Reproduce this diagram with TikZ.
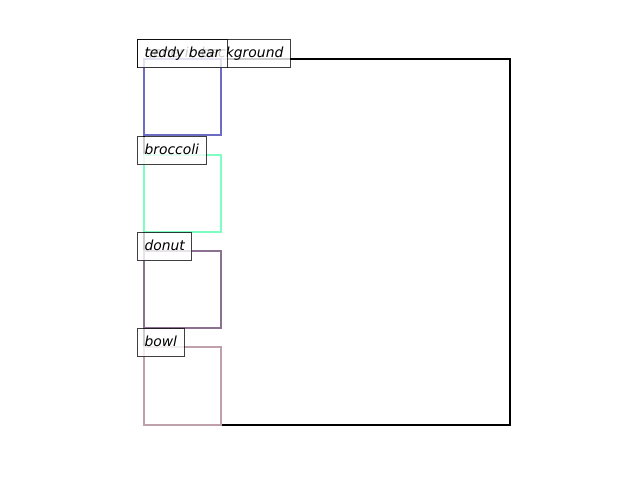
\documentclass[tikz,border=0pt]{standalone}
\usepackage{fontspec}
\setmainfont{DejaVu Sans}
\usepackage{tikz}
\usetikzlibrary{positioning}
\definecolor{tinta}{HTML}{000000}
\definecolor{osito}{HTML}{6C6CC2}
\definecolor{brocoli}{HTML}{7CFFC0}
\definecolor{dona}{HTML}{8C7092}
\definecolor{cuenco}{HTML}{C0A0AC}
\tikzset{
  marco/.style={line width=2.2pt,line join=miter},
  etiqueta/.style={draw=tinta,fill=white,draw opacity=0.75,fill opacity=0.8,text opacity=1,line width=1pt,
    inner xsep=7pt,inner ysep=7pt,text height=10.5pt,text depth=3.5pt,anchor=south west,
    font=\fontsize{13.9}{16}\selectfont\itshape},
}
\begin{document}
\begin{tikzpicture}[x=1pt,y=-1pt]
\useasboundingbox (0,0) rectangle (640,480);
\coordinate (f1) at (144,59);
\coordinate (f2) at (510,425);
\coordinate (t1) at (144,59);
\coordinate (t2) at (221,135);
\coordinate (b1) at (144,155);
\coordinate (b2) at (221,232);
\coordinate (d1) at (144,251);
\coordinate (d2) at (221,328);
\coordinate (c1) at (144,347);
\coordinate (c2) at (221,425);
\draw[marco,draw=tinta] (f1) rectangle (f2);
\node[etiqueta] (lfondo) at (137,68) {generic background};
\draw[marco,draw=osito] (t1) rectangle (t2);
\node[etiqueta] (losito) at (137,68) {teddy bear};
\draw[marco,draw=brocoli] (b1) rectangle (b2);
\node[etiqueta] (lbrocoli) at (137,165) {broccoli};
\draw[marco,draw=dona] (d1) rectangle (d2);
\node[etiqueta] (ldona) at (137,261) {donut};
\draw[marco,draw=cuenco] (c1) rectangle (c2);
\node[etiqueta] (lcuenco) at (137,357) {bowl};
\end{tikzpicture}
\end{document}
